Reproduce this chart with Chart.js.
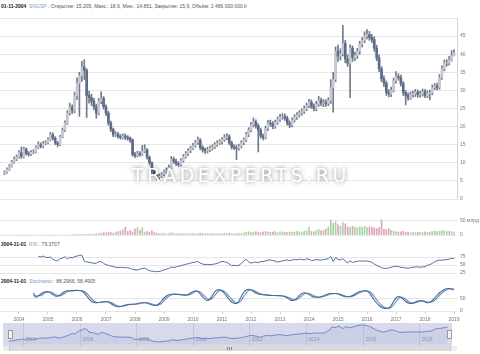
<!DOCTYPE html>
<html>
<head>
<meta charset="utf-8">
<script src="https://cdn.jsdelivr.net/npm/chart.js@4.4.1/dist/chart.umd.min.js"></script>
<style>
body { margin: 0; width: 480px; height: 354px; overflow: hidden; background: #fff; position: relative; font-family: "Liberation Sans", Arial, sans-serif; }
canvas { position: absolute; left: 0; }
.lbl { position: absolute; left: 1px; font-size: 5px; line-height: 6px; color: #555; white-space: nowrap; }
.lbl b { color: #222; }
.lbl span { color: #7d9cc8; }
.sb { position: absolute; }
</style>
</head>
<body>
<div class="lbl" style="top:3px"><b>01-11-2004</b>&nbsp;&nbsp;<span>SNGSP</span> : Открытие: 15,205, Макс.: 18,9, Мин.: 14,851, Закрытие: 15,9, Объём: 1 486 000 000 ₽</div>
<div class="lbl" style="top:241px"><b>2004-11-01</b>&nbsp;&nbsp;<span>RSI</span> : 79,3707</div>
<div class="lbl" style="top:278px"><b>2004-11-01</b>&nbsp;&nbsp;<span>Stochastic</span> : 88,2966, 58,4905</div>

<canvas id="cPrice" width="480" height="193" style="top:12px"></canvas>
<canvas id="cVolume" width="480" height="34" style="top:207px"></canvas>
<canvas id="cRsi" width="480" height="44" style="top:243px"></canvas>
<canvas id="cStoch" width="480" height="45" style="top:280px"></canvas>
<canvas id="cNav" width="480" height="23" style="top:323px"></canvas>

<!-- navigator handles and scrollbar -->
<div class="sb" style="left:8px;top:330px;width:3px;height:7px;border:1px solid #999;background:#f4f4f4"></div>
<div class="sb" style="left:447px;top:330px;width:3px;height:7px;border:1px solid #999;background:#f4f4f4"></div>
<div class="sb" style="left:3px;top:346px;width:454px;height:5px;background:#dadada"></div>
<div class="sb" style="left:3px;top:346px;width:6px;height:5px;background:#ececec;border-right:1px solid #c8c8c8"></div>
<div class="sb" style="left:450px;top:346px;width:6px;height:5px;background:#ececec;border-left:1px solid #c8c8c8"></div>
<div class="sb" style="left:227px;top:347px;width:1px;height:3px;background:#888"></div>
<div class="sb" style="left:229px;top:347px;width:1px;height:3px;background:#888"></div>
<div class="sb" style="left:231px;top:347px;width:1px;height:3px;background:#888"></div>

<script>
// monthly candles, July 2003 .. January 2019
var opens = [
    7.0, 7.4, 8.2, 9.0, 10.2, 11.0, 11.6, 12.8, 11.7, 13.8,
    12.6, 12.3, 12.9, 13.0, 14.2, 15.0, 14.6, 15.3, 15.5, 16.4,
    17.7, 16.8, 15.5, 15.0, 17.2, 19.0, 21.0, 23.7, 25.3, 24.5,
    28.5, 32.0, 34.0, 36.5, 35.5, 28.6, 28.0, 27.0, 25.5, 23.7,
    27.0, 27.8, 25.5, 23.7, 21.0, 19.2, 17.7, 17.9, 17.3, 17.0,
    17.4, 17.0, 16.8, 16.3, 12.3, 12.0, 12.6, 12.3, 13.2, 13.6,
    11.5, 10.0, 7.7, 6.9, 6.0, 6.3, 6.8, 7.5, 8.0, 8.7,
    11.0, 10.4, 9.8, 9.5, 10.6, 11.7, 12.5, 13.3, 14.0, 14.8,
    15.6, 16.3, 14.2, 13.6, 13.3, 13.6, 14.0, 14.4, 15.0, 15.5,
    15.8, 16.4, 17.0, 17.2, 15.5, 14.4, 14.2, 14.0, 14.6, 15.5,
    16.3, 17.8, 19.0, 20.5, 21.3, 20.2, 19.0, 17.4, 17.0, 19.5,
    21.0, 20.8, 20.0, 21.2, 22.0, 22.6, 22.8, 22.3, 21.0, 20.4,
    21.8, 22.6, 23.2, 23.7, 24.2, 25.0, 25.8, 26.7, 25.6, 25.0,
    26.2, 27.2, 26.5, 26.7, 26.4, 27.2, 30.8, 33.0, 40.8, 39.5,
    40.0, 43.0, 38.7, 37.5, 41.7, 39.0, 39.6, 40.8, 42.8, 43.8,
    45.0, 45.4, 44.6, 44.0, 41.7, 39.0, 36.0, 33.2, 32.0, 29.4,
    29.0, 30.0, 32.7, 33.8, 33.5, 31.9, 29.4, 28.6, 28.0, 28.8,
    29.0, 29.5, 28.8, 29.0, 29.6, 28.6, 29.2, 29.4, 30.8, 31.2,
    30.8, 33.5, 36.0, 37.6, 37.6, 38.4, 39.5
];
var highs = [
    7.8, 8.6, 9.5, 10.7, 11.6, 12.2, 13.4, 14.4, 14.3, 14.1,
    13.1, 13.4, 13.6, 14.7, 15.8, 15.5, 15.9, 16.1, 17.0, 18.4,
    18.3, 17.2, 15.9, 17.6, 19.6, 21.6, 24.4, 26.5, 26.0, 29.5,
    33.5, 35.0, 38.0, 38.5, 36.0, 29.8, 29.0, 27.8, 26.2, 27.8,
    29.6, 28.3, 26.0, 24.2, 21.5, 19.6, 18.6, 18.4, 17.8, 18.0,
    18.0, 17.5, 17.2, 16.6, 12.9, 13.2, 13.1, 14.8, 15.0, 13.9,
    11.9, 10.3, 8.2, 7.3, 6.9, 7.3, 8.0, 8.6, 9.4, 11.8,
    11.6, 11.0, 10.3, 11.2, 12.3, 13.1, 13.9, 14.6, 15.4, 16.2,
    17.1, 16.7, 14.7, 14.1, 14.3, 14.6, 15.0, 15.6, 16.1, 16.4,
    17.0, 17.8, 18.1, 17.8, 16.0, 15.0, 14.9, 15.2, 16.1, 16.9,
    18.4, 19.7, 21.2, 22.4, 21.9, 20.8, 19.6, 18.0, 20.1, 21.7,
    21.8, 21.4, 21.8, 22.7, 23.4, 23.6, 23.5, 22.9, 21.6, 22.4,
    23.3, 23.9, 24.4, 24.9, 25.7, 26.5, 27.5, 27.4, 26.3, 27.0,
    28.4, 27.9, 27.5, 27.4, 28.0, 33.0, 35.0, 42.0, 42.5, 41.5,
    48.0, 43.8, 39.8, 42.6, 42.3, 40.6, 41.6, 43.6, 44.6, 46.2,
    46.8, 46.3, 45.5, 44.8, 42.5, 39.8, 36.6, 34.0, 32.6, 30.2,
    30.9, 33.4, 35.2, 34.6, 34.2, 32.4, 30.0, 29.3, 29.6, 29.8,
    30.3, 30.1, 29.8, 30.4, 30.3, 29.9, 30.1, 31.5, 31.9, 32.0,
    34.4, 36.8, 38.4, 38.5, 39.4, 41.0, 41.2
];
var lows = [
    6.7, 7.1, 7.9, 8.8, 9.9, 10.6, 11.3, 11.2, 11.4, 12.1,
    11.8, 12.0, 12.5, 12.7, 13.9, 14.1, 14.2, 15.0, 15.2, 16.1,
    16.3, 15.0, 14.4, 14.7, 16.9, 18.6, 20.6, 23.2, 23.6, 23.8,
    27.5, 22.8, 32.5, 33.0, 22.5, 26.5, 25.8, 24.6, 22.3, 23.2,
    26.3, 24.8, 23.0, 20.4, 18.6, 17.2, 17.2, 16.8, 16.5, 16.6,
    16.4, 16.2, 15.6, 11.8, 11.4, 11.6, 11.8, 12.0, 12.8, 11.0,
    9.4, 7.1, 6.3, 5.2, 5.5, 5.9, 6.4, 7.1, 7.6, 8.3,
    9.8, 9.2, 8.9, 9.1, 10.2, 11.3, 12.0, 12.8, 13.6, 14.3,
    15.1, 13.6, 12.9, 12.6, 12.7, 13.1, 13.5, 13.9, 14.5, 15.0,
    15.2, 15.9, 16.4, 15.0, 13.8, 13.6, 10.9, 13.5, 14.1, 15.0,
    15.8, 17.2, 18.5, 19.9, 19.6, 13.0, 16.8, 16.3, 16.6, 18.9,
    20.1, 19.4, 19.5, 20.6, 21.4, 22.0, 21.7, 20.4, 19.7, 19.9,
    21.2, 22.0, 22.6, 23.1, 23.6, 24.4, 25.2, 25.0, 24.3, 24.4,
    25.6, 25.8, 25.5, 25.6, 25.8, 26.4, 24.0, 32.4, 38.0, 38.4,
    39.5, 37.6, 36.6, 28.0, 38.0, 38.2, 38.8, 40.0, 42.0, 43.2,
    44.2, 43.8, 43.2, 40.8, 38.2, 35.2, 32.4, 31.0, 28.6, 28.2,
    28.3, 29.6, 32.0, 32.8, 31.2, 28.6, 26.0, 27.3, 27.5, 28.1,
    28.3, 28.1, 28.1, 28.4, 28.0, 28.0, 27.4, 28.8, 30.2, 30.1,
    30.3, 33.0, 35.4, 36.7, 37.0, 38.1, 39.6
];
var closes = [
    7.4, 8.2, 9.0, 10.2, 11.0, 11.6, 12.8, 11.7, 13.8, 12.6,
    12.3, 12.9, 13.0, 14.2, 15.0, 14.6, 15.3, 15.5, 16.4, 17.7,
    16.8, 15.5, 15.0, 17.2, 19.0, 21.0, 23.7, 25.3, 24.5, 28.5,
    32.0, 34.0, 36.5, 35.5, 28.6, 28.0, 27.0, 25.5, 23.7, 27.0,
    27.8, 25.5, 23.7, 21.0, 19.2, 17.7, 17.9, 17.3, 17.0, 17.4,
    17.0, 16.8, 16.3, 12.3, 12.0, 12.6, 12.3, 13.2, 13.6, 11.5,
    10.0, 7.7, 6.9, 6.0, 6.3, 6.8, 7.5, 8.0, 8.7, 11.0,
    10.4, 9.8, 9.5, 10.6, 11.7, 12.5, 13.3, 14.0, 14.8, 15.6,
    16.3, 14.2, 13.6, 13.3, 13.6, 14.0, 14.4, 15.0, 15.5, 15.8,
    16.4, 17.0, 17.2, 15.5, 14.4, 14.2, 14.0, 14.6, 15.5, 16.3,
    17.8, 19.0, 20.5, 21.3, 20.2, 19.0, 17.4, 17.0, 19.5, 21.0,
    20.8, 20.0, 21.2, 22.0, 22.6, 22.8, 22.3, 21.0, 20.4, 21.8,
    22.6, 23.2, 23.7, 24.2, 25.0, 25.8, 26.7, 25.6, 25.0, 26.2,
    27.2, 26.5, 26.7, 26.4, 27.2, 30.8, 33.0, 40.8, 39.5, 40.0,
    43.0, 38.7, 37.5, 41.7, 39.0, 39.6, 40.8, 42.8, 43.8, 45.0,
    45.4, 44.6, 44.0, 41.7, 39.0, 36.0, 33.2, 32.0, 29.4, 29.0,
    30.0, 32.7, 33.8, 33.5, 31.9, 29.4, 28.6, 28.0, 28.8, 29.0,
    29.5, 28.8, 29.0, 29.6, 28.6, 29.2, 29.4, 30.8, 31.2, 30.8,
    33.5, 36.0, 37.6, 37.6, 38.4, 39.5, 40.3
];
// volume, billions of roubles
var volumes = [
    0, 0, 0, 0, 0, 0, 0, 0, 0, 0,
    0, 0, 0, 0, 0, 0, 0, 0, 0, 0,
    0, 0, 0, 0, 0, 0, 0, 0, 0,
    1, 1, 2, 1, 2, 2, 3, 2, 3, 4,
    5, 6, 8, 7, 9, 8, 6, 10, 12, 14,
    18, 27, 12, 14, 11, 20, 26, 15, 25, 10,
    12, 9, 14, 8, 6, 5, 6, 5, 4, 5,
    8, 5, 4, 5, 6, 4, 5, 4, 5, 6,
    4, 5, 6, 5, 4, 5, 6, 5, 4, 5,
    4, 5, 6, 5, 6, 5, 4, 5, 6, 5,
    7, 9, 11, 8, 10, 12, 9, 8, 10, 12,
    11, 9, 10, 12, 8, 10, 11, 9, 8, 10,
    9, 10, 12, 11, 9, 13, 14, 27, 12, 11,
    15, 18, 14, 16, 20, 28, 52, 40, 45, 35,
    30, 42, 38, 28, 25, 30, 27, 24, 28, 26,
    30, 25, 28, 26, 24, 22, 25, 52, 20, 18,
    22, 16, 14, 12, 10, 11, 13, 9, 10, 8,
    9, 8, 10, 9, 8, 11, 9, 10, 12, 14,
    11, 13, 15, 14, 12, 13, 11, 10
];
// RSI starts at month 14, stochastic at month 12
var rsiStart = 14;
var rsiValues = [
    77, 75, 78, 74, 73, 75, 68, 64, 63, 70,
    72, 76, 69, 74, 72, 76, 78, 80, 81, 62,
    60, 58, 57, 55, 56, 60, 61, 55, 51, 49,
    47, 45, 43, 42, 43, 42, 42, 41, 40, 36,
    35, 34, 37, 39, 40, 36, 32, 31, 30, 29,
    30, 32, 35, 37, 39, 44, 42, 44, 46, 48,
    50, 52, 54, 56, 58, 59, 61, 56, 53, 51,
    52, 51, 52, 53, 55, 58, 61, 60, 58, 53,
    48, 49, 48, 49, 55, 62, 68, 60, 56, 58,
    59, 57, 61, 60, 63, 65, 66, 64, 62, 59,
    61, 63, 64, 66, 63, 66, 67, 66, 68, 67,
    66, 69, 68, 64, 65, 67, 66, 65, 67, 68,
    70, 77, 61, 73, 68, 66, 70, 62, 57, 63,
    58, 60, 61, 63, 62, 63, 62, 61, 59, 53,
    49, 45, 42, 40, 39, 41, 43, 45, 46, 45,
    43, 42, 41, 40, 42, 43, 44, 44, 43, 44,
    45, 49, 51, 55, 60, 64, 65, 65, 66, 67,
    68, 71, 70
];
var stochStart = 12;
var stochK = [
    72, 55, 60, 68, 74, 77, 77, 73, 66, 60,
    59, 64, 72, 78, 81, 81, 81, 82, 83, 81,
    80, 72, 60, 48, 38, 34, 33, 34, 36, 37, 37,
    36, 30, 24, 19, 17, 18, 21, 24, 26, 27,
    27, 28, 30, 32, 33, 33, 32, 28, 24, 22,
    23, 30, 40, 52, 60, 65, 67, 68, 67, 66,
    65, 64, 63, 66, 72, 78, 81, 78, 68, 56,
    47, 42, 48, 62, 76, 84, 85, 80, 70, 58,
    46, 36, 31, 30, 40, 58, 75, 84, 87, 84,
    78, 72, 68, 66, 65, 64, 63, 62, 62, 62,
    61, 61, 60, 57, 52, 46, 42, 44, 52, 62,
    70, 73, 71, 66, 60, 56, 55, 55, 57, 61,
    65, 68, 70, 70, 70, 68, 64, 60, 57, 57,
    58, 62, 68, 74, 78, 80, 81, 80, 72, 58,
    44, 32, 22, 15, 11, 10, 12, 22, 38, 52,
    58, 55, 47, 38, 32, 30, 32, 36, 40, 42,
    40, 36, 33, 35, 42, 52, 63, 73, 80, 86,
    89, 90, 88, 85
];
var stochD = [
    62, 60, 62, 61, 67, 73, 76, 76, 72, 66,
    62, 61, 65, 71, 77, 80, 81, 81, 82, 82,
    81, 78, 71, 60, 49, 40, 35, 34, 34, 36, 37,
    37, 34, 30, 24, 20, 18, 19, 21, 24, 26,
    27, 27, 28, 30, 32, 33, 33, 31, 28, 25,
    23, 25, 31, 41, 51, 59, 64, 67, 67, 67,
    66, 65, 64, 64, 67, 72, 77, 79, 76, 67,
    57, 48, 46, 51, 62, 74, 82, 83, 78, 69,
    58, 47, 38, 32, 34, 43, 58, 72, 82, 85,
    83, 78, 73, 69, 66, 65, 64, 63, 62, 62,
    62, 61, 61, 59, 56, 52, 47, 44, 46, 53,
    61, 68, 71, 70, 66, 61, 57, 55, 56, 58,
    61, 65, 68, 69, 70, 69, 67, 64, 60, 58,
    57, 59, 63, 68, 73, 77, 80, 80, 78, 70,
    58, 45, 33, 23, 16, 12, 11, 15, 24, 37,
    49, 55, 53, 47, 39, 33, 31, 33, 36, 39,
    41, 39, 36, 35, 37, 43, 52, 63, 72, 80,
    85, 88, 89, 87
];
var priceTicks = [0, 5, 10, 15, 20, 25, 30, 35, 40, 45, 50];
var volumeTicks = [0, 25, 50, 75];
var rsiTicks = [25, 50, 75];
var stochTicks = [0, 50];
var yearTicks = [2004, 2005, 2006, 2007, 2008, 2009, 2010, 2011, 2012, 2013, 2014, 2015, 2016, 2017, 2018, 2019];
var navYears = [2004, 2006, 2008, 2010, 2012, 2014, 2016, 2018];

var X_MIN = 2003.345, X_MAX = 2019.103;
var GRID = '#e6e6e6';
Chart.defaults.font.family = '"Liberation Sans", Arial, sans-serif';

function monthTime(i) {
    return 2003.5 + i / 12;
}

function panelOptions(yMin, yMax, ticks, fmt, border) {
    return {
        responsive: false,
        animation: false,
        events: [],
        layout: { autoPadding: false, padding: { top: 5, bottom: 5, left: 0, right: 0 } },
        plugins: { legend: { display: false }, tooltip: { enabled: false } },
        scales: {
            x: { type: 'linear', display: false, offset: false, min: X_MIN, max: X_MAX },
            y: {
                position: 'right', min: yMin, max: yMax,
                afterFit: function (s) { s.width = 23; },
                afterBuildTicks: function (s) { s.ticks = ticks.map(function (v) { return { value: v }; }); },
                grid: { color: GRID, drawTicks: false },
                border: { display: border, color: '#d4d4d4' },
                ticks: { padding: 3, color: '#777', font: { size: 5 }, callback: fmt }
            }
        }
    };
}

var candleBody = [], candleWick = [], bodyColors = [], volBars = [], volColors = [], navLine = [];
for (var i = 0; i < closes.length; i++) {
    var t = monthTime(i);
    var up = closes[i] >= opens[i];
    candleBody.push({ x: t, y: [opens[i], closes[i]] });
    candleWick.push({ x: t, y: [lows[i], highs[i]] });
    bodyColors.push(up ? '#c3c8d2' : '#5a6c8e');
    volBars.push({ x: t, y: volumes[i] });
    volColors.push(up ? '#a9d3a4' : '#e3a3bb');
    navLine.push({ x: t, y: closes[i] });
}
var rsiLine = rsiValues.map(function (v, k) { return { x: monthTime(rsiStart + k), y: v }; });
var kLine = stochK.map(function (v, k) { return { x: monthTime(stochStart + k), y: v }; });
var dLine = stochD.map(function (v, k) { return { x: monthTime(stochStart + k), y: v }; });

var watermark = {
    id: 'watermark',
    afterDatasetsDraw: function (chart) {
        var c = chart.ctx;
        c.save();
        c.font = '19px "DejaVu Sans"';
        c.letterSpacing = '3.5px';
        c.textAlign = 'center';
        c.textBaseline = 'middle';
        c.shadowColor = 'rgba(0,0,0,0.55)';
        c.shadowBlur = 5;
        c.fillStyle = '#fff';
        c.fillText('TRADEXPERTS.RU', 241, 165);
        c.restore();
    }
};

// price
var priceOpts = panelOptions(0, 50, priceTicks, function (v) { return v === 50 ? '' : v; }, true);
new Chart(document.getElementById('cPrice').getContext('2d'), {
    type: 'bar',
    data: {
        datasets: [
            { data: candleBody, backgroundColor: bodyColors, borderColor: '#6a6f7a', borderWidth: 0, barThickness: 2, grouped: false, borderSkipped: false },
            { data: candleWick, backgroundColor: '#747a86', barThickness: 1, grouped: false, borderSkipped: false }
        ]
    },
    options: priceOpts,
    plugins: [watermark]
});

// volume
new Chart(document.getElementById('cVolume').getContext('2d'), {
    type: 'bar',
    data: { datasets: [{ data: volBars, backgroundColor: volColors, barThickness: 1, grouped: false }] },
    options: panelOptions(0, 75, volumeTicks, function (v) { return v === 75 ? '' : (v === 0 ? '0' : v + ' млрд'); }, false)
});

// RSI
var rsiOpts = panelOptions(0, 100, rsiTicks, function (v) { return v; }, false);
new Chart(document.getElementById('cRsi').getContext('2d'), {
    type: 'line',
    data: { datasets: [{ data: rsiLine, borderColor: '#52709b', borderWidth: 1, pointRadius: 0, tension: 0 }] },
    options: rsiOpts
});

// stochastic, with the year axis under it
var stochOpts = panelOptions(0, 100, stochTicks, function (v) { return v; }, false);
stochOpts.layout.padding.bottom = 0;
stochOpts.scales.x = {
    type: 'linear', display: true, offset: false, min: X_MIN, max: X_MAX,
    afterFit: function (s) { s.height = 14; },
    afterBuildTicks: function (s) { s.ticks = yearTicks.map(function (v) { return { value: v }; }); },
    grid: { drawOnChartArea: false, drawTicks: true, tickLength: 3, color: '#cfcfcf' },
    border: { display: false },
    ticks: { autoSkip: false, maxRotation: 0, padding: 3, color: '#777', font: { size: 5 }, callback: function (v) { return String(v); } }
};
new Chart(document.getElementById('cStoch').getContext('2d'), {
    type: 'line',
    data: {
        datasets: [
            { data: kLine, borderColor: '#45699a', borderWidth: 1.1, pointRadius: 0, tension: 0.3 },
            { data: dLine, borderColor: '#6d8cb6', borderWidth: 1.1, pointRadius: 0, tension: 0.3 }
        ]
    },
    options: stochOpts
});

// navigator
var navDecor = {
    id: 'navDecor',
    beforeDatasetsDraw: function (chart) {
        var c = chart.ctx, a = chart.chartArea, xs = chart.scales.x;
        c.save();
        c.fillStyle = '#d7daec';
        c.fillRect(a.left, a.top, a.right - a.left, a.bottom - a.top);
        c.strokeStyle = '#c3c7dc';
        c.lineWidth = 1;
        c.font = '5px "Liberation Sans"';
        c.fillStyle = '#9197b3';
        c.textBaseline = 'middle';
        navYears.forEach(function (y) {
            var px = Math.round(xs.getPixelForValue(y)) + 0.5;
            c.beginPath();
            c.moveTo(px, a.top);
            c.lineTo(px, a.bottom);
            c.stroke();
            c.fillText(String(y), px + 2, 17);
        });
        c.restore();
    }
};
new Chart(document.getElementById('cNav').getContext('2d'), {
    type: 'line',
    data: { datasets: [{ data: navLine, borderColor: '#7489bf', borderWidth: 1, pointRadius: 0, tension: 0, fill: 'origin', backgroundColor: 'rgba(110,130,190,0.10)' }] },
    options: {
        responsive: false,
        animation: false,
        events: [],
        layout: { autoPadding: false, padding: { top: 0, bottom: 0, left: 3, right: 28 } },
        plugins: { legend: { display: false }, tooltip: { enabled: false } },
        scales: {
            x: { type: 'linear', display: false, min: 2003.293, max: 2019.16 },
            y: { display: false, min: -3.5, max: 50 }
        }
    },
    plugins: [navDecor]
});
</script>
</body>
</html>
